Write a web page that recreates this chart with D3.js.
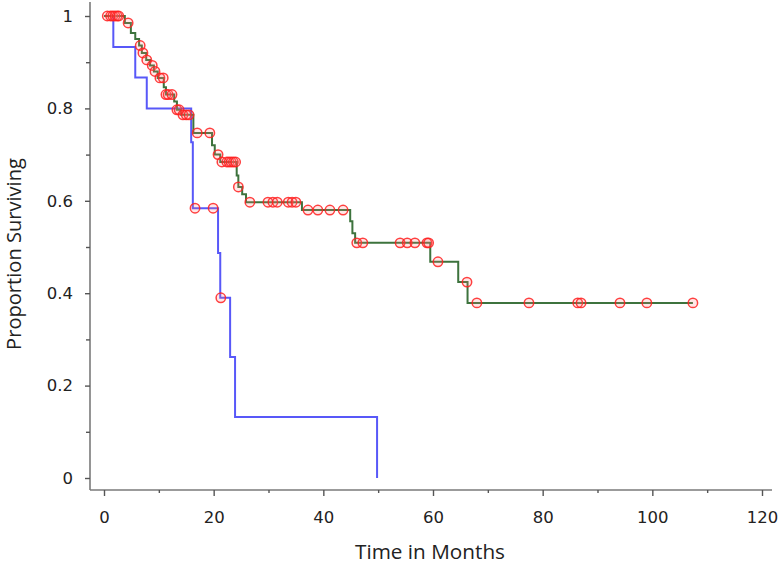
<!DOCTYPE html>
<html>
<head>
<meta charset="utf-8">
<script src="https://cdn.jsdelivr.net/npm/d3@7"></script>
<style>
  html, body { margin: 0; padding: 0; background: #fff; }
  svg { display: block; }
</style>
</head>
<body>
<svg id="chart" width="779" height="564"></svg>
<script>
// ---- data ----
const xTicks = [0, 20, 40, 60, 80, 100, 120];
const xMinorTicks = [10, 30, 50, 70, 90, 110];
const yTicks = [0, 0.2, 0.4, 0.6, 0.8, 1];
const yMinorTicks = [0.1, 0.3, 0.5, 0.7, 0.9];
const yTickLabels = ["0", "0.2", "0.4", "0.6", "0.8", "1"];
const xTitle = "Time in Months";
const yTitle = "Proportion Surviving";

// group A (green): event times and survival after each drop
const greenEventTimes = [3.8, 4.9, 5.7, 6.4, 6.9, 7.7, 8.4, 9.1, 9.8, 10.9, 11.3, 12.8, 13.3, 14.0, 16.3,
  19.7, 20.2, 21.2, 24.2, 24.5, 25.2, 25.9, 36.1, 44.9, 45.3, 45.8, 59.5, 64.6, 66.3];
const greenSurvival = [0.985, 0.963, 0.950, 0.936, 0.920, 0.905, 0.893, 0.880, 0.866, 0.846, 0.830, 0.815, 0.797, 0.786, 0.747,
  0.720, 0.700, 0.684, 0.655, 0.630, 0.614, 0.597, 0.580, 0.556, 0.530, 0.509, 0.468, 0.424, 0.379];
const greenEnd = 107.4;
const greenCensored = [0.6, 1.2, 1.6, 2.0, 2.4, 2.7, 4.4, 6.6, 7.1, 7.8, 8.8, 9.3, 10.2, 10.8, 11.3, 11.7, 12.4,
  13.3, 13.7, 14.4, 15.0, 15.5, 17.0, 19.3, 20.8, 21.5, 22.4, 22.8, 23.2, 23.6, 24.0, 24.5,
  26.6, 29.9, 30.8, 31.6, 33.6, 34.3, 35.0, 37.2, 39.0, 41.2, 43.6, 46.1, 47.2,
  54.0, 55.3, 56.7, 58.9, 59.2, 60.9, 66.2, 68.0, 77.5, 86.4, 87.0, 94.1, 99.0, 107.4];

// group B (blue)
const blueEventTimes = [1.7, 5.7, 7.8, 15.9, 16.2, 20.8, 21.2, 23.0, 23.9, 49.8];
const blueSurvival = [0.933, 0.867, 0.800, 0.727, 0.584, 0.487, 0.390, 0.262, 0.132, 0.0];
const blueEnd = 49.8;
const blueCensored = [16.6, 19.9, 21.3];

// ---- chart ----
const svg = d3.select("#chart");
const axisX0 = 90, axisX1 = 772, axisY0 = 490, axisY1 = 2;

const x = d3.scaleLinear().domain([0, 120]).range([104, 762]);
const y = d3.scaleLinear().domain([0, 1]).range([478, 16]);

function stepPoints(times, surv, end) {
  const pts = [[0, 1]];
  times.forEach((t, i) => pts.push([t, surv[i]]));
  const last = pts[pts.length - 1];
  if (end > last[0]) pts.push([end, last[1]]);
  return pts;
}
function survAt(times, surv, t) {
  let v = 1;
  times.forEach((tt, i) => { if (tt <= t) v = surv[i]; });
  return v;
}

const line = d3.line().x(d => x(d[0])).y(d => y(d[1])).curve(d3.curveStepAfter);

// axes lines
svg.append("line").attr("x1", axisX0).attr("x2", axisX0).attr("y1", axisY1).attr("y2", axisY0)
  .attr("stroke", "#7a7a7a").attr("stroke-width", 1.6);
svg.append("line").attr("x1", axisX0).attr("x2", axisX1).attr("y1", axisY0).attr("y2", axisY0)
  .attr("stroke", "#7a7a7a").attr("stroke-width", 1.6);

const tickFont = "'DejaVu Sans', sans-serif";

// y axis
const yAxis = d3.axisLeft(y).tickValues(yTicks).tickSize(5).tickPadding(12)
  .tickFormat((d, i) => yTickLabels[i]);
const gy = svg.append("g").attr("transform", `translate(${axisX0},0)`).call(yAxis);
gy.select(".domain").remove();
gy.selectAll("line").attr("stroke", "#555").attr("stroke-width", 1.4);
gy.selectAll("text").attr("font-family", tickFont).attr("font-size", 16.5).attr("fill", "#222");
const gym = svg.append("g").attr("transform", `translate(${axisX0},0)`)
  .call(d3.axisLeft(y).tickValues(yMinorTicks).tickSize(4).tickFormat(""));
gym.select(".domain").remove();
gym.selectAll("line").attr("stroke", "#555").attr("stroke-width", 1.4);

// x axis
const xAxis = d3.axisBottom(x).tickValues(xTicks).tickSize(6).tickPadding(15)
  .tickFormat(d3.format("d"));
const gx = svg.append("g").attr("transform", `translate(0,${axisY0})`).call(xAxis);
gx.select(".domain").remove();
gx.selectAll("line").attr("stroke", "#555").attr("stroke-width", 1.4);
gx.selectAll("text").attr("font-family", tickFont).attr("font-size", 16.5).attr("fill", "#222");
const gxm = svg.append("g").attr("transform", `translate(0,${axisY0})`)
  .call(d3.axisBottom(x).tickValues(xMinorTicks).tickSize(3).tickFormat(""));
gxm.select(".domain").remove();
gxm.selectAll("line").attr("stroke", "#555").attr("stroke-width", 1.4);

// titles, sized to the widths in the reference
function fitText(sel, target) {
  const base = 20;
  sel.attr("font-size", base);
  const len = sel.node().getComputedTextLength();
  sel.attr("font-size", base * target / len);
}
const xt = svg.append("text").text(xTitle)
  .attr("x", 430).attr("y", 559).attr("text-anchor", "middle")
  .attr("font-family", "'Open Sans', sans-serif").attr("fill", "#222");
fitText(xt, 150);
const yt = svg.append("text").text(yTitle)
  .attr("transform", "translate(21,254) rotate(-90)").attr("text-anchor", "middle")
  .attr("font-family", "'Open Sans', sans-serif").attr("fill", "#222");
fitText(yt, 192);

// curves
const bluePts = stepPoints(blueEventTimes, blueSurvival, blueEnd);
const greenPts = stepPoints(greenEventTimes, greenSurvival, greenEnd);

svg.append("path").datum(bluePts).attr("d", line)
  .attr("fill", "none").attr("stroke", "#3b3bf7").attr("stroke-opacity", 0.85).attr("stroke-width", 2);
svg.append("path").datum(greenPts).attr("d", line)
  .attr("fill", "none").attr("stroke", "#3d733d").attr("stroke-width", 2);

// censor marks
const censorData = greenCensored.map(t => [t, survAt(greenEventTimes, greenSurvival, t)])
  .concat(blueCensored.map(t => [t, survAt(blueEventTimes, blueSurvival, t)]));
svg.append("g").selectAll("circle").data(censorData).join("circle")
  .attr("cx", d => x(d[0])).attr("cy", d => y(d[1])).attr("r", 4.7)
  .attr("fill", "rgba(255,120,120,0.18)").attr("stroke", "#ff2020")
  .attr("stroke-opacity", 0.85).attr("stroke-width", 1.5);
</script>
</body>
</html>
